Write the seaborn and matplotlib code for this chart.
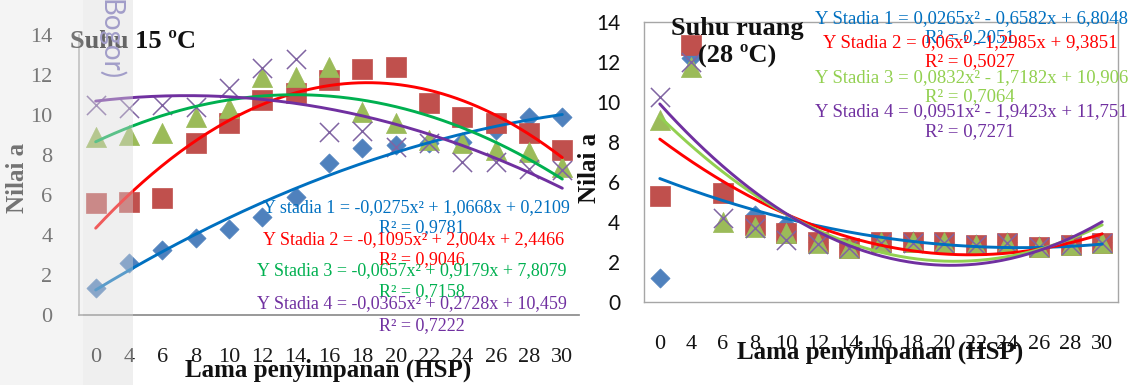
import numpy as np
import pandas as pd
import matplotlib
matplotlib.use("Agg")
import matplotlib.pyplot as plt
import seaborn as sns
from matplotlib.patches import Rectangle

# ---------------- data ----------------
hsp = ["0", "4", "6", "8", "10", "12", "14", "16", "18", "20", "22", "24", "26", "28", "30"]

# Suhu 15 C
left_s1 = [1.35, 2.6, 3.25, 3.85, 4.3, 4.9, 5.9, 7.6, 8.35, 8.5, 8.6, 8.65, 9.25, 9.9, 9.9]
left_s2 = [5.6, 5.65, 5.85, 8.6, 9.6, 10.75, 11.1, 11.75, 12.3, 12.4, 10.6, 9.9, 9.6, 9.1, 8.25]
left_s3 = [8.9, 9.0, 9.1, 9.9, 10.35, 11.9, 11.9, 12.4, 10.15, 9.6, 8.75, 8.6, 8.25, 8.15, 7.4]
left_s4 = [10.5, 10.35, 10.5, 10.4, 11.35, 12.35, 12.8, 9.15, 9.2, 8.4, 8.6, 7.65, 7.65, 7.3, 7.25]
# trendline coefficients shown on chart (x = category index 1..15)
left_c1 = [-0.0275, 1.0668, 0.2109]
left_c2 = [-0.1095, 2.004, 2.4466]
left_c3 = [-0.0657, 0.9179, 7.8079]
left_c4 = [-0.0365, 0.2728, 10.459]
left_eq = ["Y stadia 1 = -0,0275x² + 1,0668x + 0,2109", "Y Stadia 2 = -0,1095x² + 2,004x + 2,4466",
           "Y Stadia 3 = -0,0657x² + 0,9179x + 7,8079", "Y Stadia 4 = -0,0365x² + 0,2728x + 10,459"]
left_r2 = ["R² = 0,9781", "R² = 0,9046", "R² = 0,7158", "R² = 0,7222"]

# Suhu ruang 28 C
right_s1 = [1.2, 12.2, 5.6, 4.35, 3.85, 3.0, 2.75, 3.0, 3.05, 3.0, 2.9, 3.0, 2.8, 2.9, 3.0]
right_s2 = [5.3, 12.85, 5.45, 3.85, 3.45, 3.0, 2.7, 3.0, 3.0, 3.0, 2.85, 2.95, 2.75, 2.85, 2.95]
right_s3 = [9.1, 11.75, 4.0, 3.75, 3.45, 2.95, 2.7, 3.0, 3.0, 3.0, 2.85, 2.95, 2.75, 2.85, 2.95]
right_s4 = [10.25, 12.0, 4.2, 3.7, 3.1, 2.9, 2.7, 2.95, 2.95, 2.95, 2.85, 2.95, 2.75, 2.85, 2.95]
right_c1 = [0.0265, -0.6582, 6.8048]
right_c2 = [0.06, -1.2985, 9.3851]
right_c3 = [0.0832, -1.7182, 10.906]
right_c4 = [0.0951, -1.9423, 11.751]
right_eq = ["Y Stadia 1 = 0,0265x² - 0,6582x + 6,8048", "Y Stadia 2 = 0,06x² - 1,2985x + 9,3851",
            "Y Stadia 3 = 0,0832x² - 1,7182x + 10,906", "Y Stadia 4 = 0,0951x² - 1,9423x + 11,751"]
right_r2 = ["R² = 0,2051", "R² = 0,5027", "R² = 0,7064", "R² = 0,7271"]

# ---------------- style ----------------
sns.set_theme(style="white")
plt.rcParams["font.family"] = ["Liberation Serif", "DejaVu Serif"]

W, H = 1136, 385
fig = plt.figure(figsize=(W / 100, H / 100), dpi=100)
fig.patch.set_facecolor("white")


def px_axes(l, t, r, b):
    return fig.add_axes([l / W, 1 - b / H, (r - l) / W, (b - t) / H])


def ftext(x, y, s, **kw):
    kw.setdefault("va", "center")
    return fig.text(x / W, 1 - y / H, s, **kw)


mk_col = ["#4f81bd", "#c0504d", "#9bbb59", "#8064a2"]
mk_sty = [("D", 95), ("s", 195), ("^", 210), ("x", 190)]
eq_col_left = ["#0070c0", "#ff0000", "#00b050", "#7030a0"]
eq_col_right = ["#0070c0", "#ff0000", "#92d050", "#7030a0"]

pos = np.arange(len(hsp))
xx = np.linspace(0, len(hsp) - 1, 200)


def draw_panel(ax, series, coefs, line_cols):
    for vals, col, (m, s) in zip(series, mk_col, mk_sty):
        if m == "x":
            sns.scatterplot(x=pos, y=vals, marker=m, s=s, color=col, linewidth=1.1, ax=ax,
                            legend=False, clip_on=False)
        else:
            sns.scatterplot(x=pos, y=vals, marker=m, s=s, color=col, edgecolor=col, linewidth=0.5,
                            ax=ax, legend=False, clip_on=False)
    for c, lc in zip(coefs, line_cols):
        df = pd.DataFrame({"x": xx, "y": np.polyval(c, xx + 1)})
        sns.lineplot(data=df, x="x", y="y", color=lc, lw=2.1, ax=ax, legend=False)
    ax.set_xlim(-0.5, len(hsp) - 0.5)
    ax.set_ylim(0, 14)
    ax.set_yticks(np.arange(0, 15, 2))
    ax.set_xticks(pos, hsp)
    ax.set_xlabel("")
    ax.set_ylabel("")
    ax.tick_params(length=0)


# ---------------- left panel ----------------
axL = px_axes(79, 35, 579, 315)
draw_panel(axL, [left_s1, left_s2, left_s3, left_s4],
           [left_c1, left_c2, left_c3, left_c4], eq_col_left)
for sp in ["top", "right"]:
    axL.spines[sp].set_visible(False)
axL.spines["left"].set_color("#a6a6a6")
axL.spines["bottom"].set_color("#8c8c8c")
axL.tick_params(axis="x", pad=24, labelsize=16, labelcolor="#1a1a1a")
axL.tick_params(axis="y", pad=19, labelsize=16, labelcolor="#1a1a1a")

# ---------------- right panel ----------------
axR = px_axes(644, 22, 1118, 302)
draw_panel(axR, [right_s1, right_s2, right_s3, right_s4],
           [right_c1, right_c2, right_c3, right_c4], eq_col_right)
for sp in axR.spines.values():
    sp.set_color("#a6a6a6")
    sp.set_linewidth(1.0)
axR.tick_params(axis="x", pad=24, labelsize=16, labelcolor="#111111")
axR.tick_params(axis="y", pad=17, labelsize=15, labelcolor="#111111")
for lab in axR.get_yticklabels():
    lab.set_family(["Lato", "DejaVu Sans"])

# ---------------- texts ----------------
# left equations
left_eq_x = [263, 263, 257, 257]
left_eq_y = [208, 240, 271, 304]
left_r2_y = [228, 260, 292, 326]
for i in range(4):
    ftext(left_eq_x[i], left_eq_y[i], left_eq[i], color=eq_col_left[i], fontsize=13, ha="left")
    ftext(422, left_r2_y[i], left_r2[i], color=eq_col_left[i], fontsize=13, ha="center")

# right equations
right_eq_x = [815, 823, 815, 815]
right_eq_y = [19, 43, 78, 112]
right_r2_y = [38, 62, 97, 132]
for i in range(4):
    ftext(right_eq_x[i], right_eq_y[i], right_eq[i], color=eq_col_right[i], fontsize=13.5, ha="left")
    ftext(970, right_r2_y[i], right_r2[i], color=eq_col_right[i], fontsize=13.5, ha="center")

# titles
ftext(70, 42, "Suhu 15 ºC", fontsize=19, fontweight="bold", color="#111111", ha="left")
ftext(737, 42, "Suhu ruang\n(28 ºC)", fontsize=19, fontweight="bold", color="#111111",
      ha="center", linespacing=1.15)

# axis labels
ftext(18, 178, "Nilai a", fontsize=18, fontweight="bold", color="#111111", rotation=90, ha="center")
ftext(590, 168, "Nilai a", fontsize=18, fontweight="bold", color="#111111", rotation=90, ha="center")
ftext(328, 370, "Lama penyimpanan (HSP)", fontsize=18, fontweight="bold", color="#111111", ha="center")
ftext(880, 352, "Lama penyimpanan (HSP)", fontsize=18, fontweight="bold", color="#111111", ha="center")

# rotated label fragment at the top edge
ftext(110, 40, "Bogor)", fontsize=20, color="#7a72bd", rotation=270, ha="center",
      family=["Lato", "DejaVu Sans"])

# semi-transparent overlays on the left side
fig.add_artist(Rectangle((0, 0), 83 / W, 1, transform=fig.transFigure, facecolor="#e7e7e7",
                         edgecolor="none", alpha=0.46, zorder=10))
fig.add_artist(Rectangle((83 / W, 0), 50 / W, 1, transform=fig.transFigure, facecolor="#dadada",
                         edgecolor="none", alpha=0.42, zorder=10))

fig.savefig("out.png", dpi=100)
